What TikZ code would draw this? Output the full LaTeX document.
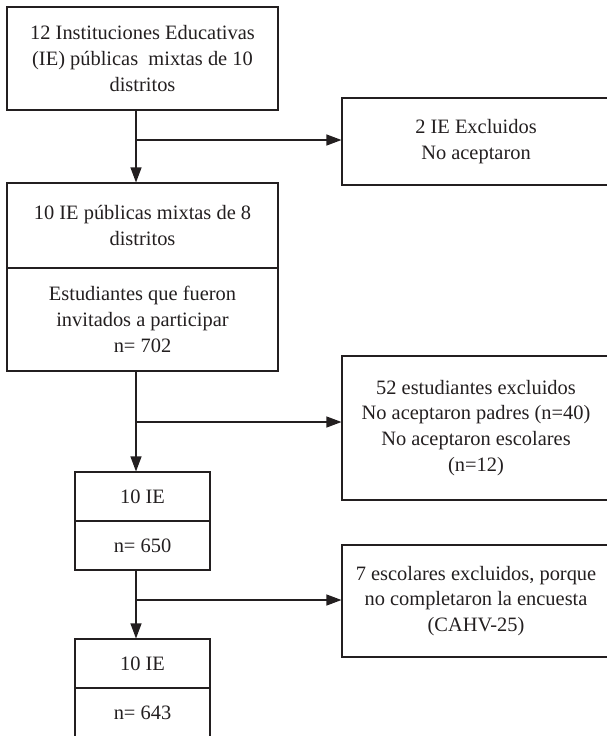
\documentclass[tikz,border=0pt]{standalone}
\usepackage{fontspec}
\setmainfont{Liberation Serif}
\usetikzlibrary{arrows.meta}
\definecolor{ink}{HTML}{231F20}
\tikzset{
  box/.style={draw=ink, line width=1.1bp, rectangle, inner sep=0pt, align=center,
    text=ink, font=\fontsize{20.5}{26}\selectfont},
  conn/.style={draw=ink, line width=1.1bp, -{Triangle[length=15bp,width=11bp]}},
  plain/.style={draw=ink, line width=1.1bp}
}
\begin{document}
\begin{tikzpicture}[x=1bp,y=-1bp]
\useasboundingbox (0,0) rectangle (607,736);
% left column
\node[box, minimum width=271bp, minimum height=103bp] (b1) at (142.5,58.5)
  {12 Instituciones Educativas\\(IE) públicas~ mixtas de 10\\distritos};
\node[box, minimum width=271bp, minimum height=85bp] (b2a) at (142.5,225.5)
  {10 IE públicas mixtas de 8\\distritos};
\node[box, minimum width=271bp, minimum height=103bp] (b2b) at (142.5,319.5)
  {Estudiantes que fueron\\invitados a participar\\n= 702};
\node[box, minimum width=135bp, minimum height=49bp] (b3a) at (142.5,496.5) {10 IE};
\node[box, minimum width=135bp, minimum height=49bp] (b3b) at (142.5,545.5) {n= 650};
\node[box, minimum width=135bp, minimum height=49bp] (b4a) at (142.5,663.5) {10 IE};
\node[box, minimum width=135bp, minimum height=49bp] (b4b) at (142.5,712.5) {n= 643};
% right column
\node[box, minimum width=268bp, minimum height=87bp] (r1) at (476,141.5)
  {2 IE Excluidos\\No aceptaron};
\node[box, minimum width=268bp, minimum height=144bp] (r2) at (476,428)
  {52 estudiantes excluidos\\No aceptaron padres (n=40)\\No aceptaron escolares\\(n=12)};
\node[box, minimum width=268bp, minimum height=112bp] (r3) at (476,601)
  {7 escolares excluidos, porque\\no completaron la encuesta\\(CAHV-25)};
% trunk points
\coordinate (s1) at ([xshift=-6.5bp]b1.south);
\coordinate (e1) at ([xshift=-6.5bp]b2a.north);
\coordinate (s2) at ([xshift=-6.5bp]b2b.south);
\coordinate (e2) at ([xshift=-6.5bp]b3a.north);
\coordinate (s3) at ([xshift=-6.5bp]b3b.south);
\coordinate (e3) at ([xshift=-6.5bp]b4a.north);
\coordinate (r2in) at ([yshift=6bp]r2.west);
\coordinate (r1in) at ([yshift=1.5bp]r1.west);
\coordinate (r3in) at ([yshift=1bp]r3.west);
% connectors
\draw[conn] (s1) -- (e1);
\draw[conn] (s1 |- r1in) -- (r1in);
\draw[conn] (s2) -- (e2);
\draw[conn] (s2 |- r2in) -- (r2in);
\draw[conn] (s3) -- (e3);
\draw[conn] (s3 |- r3in) -- (r3in);
\end{tikzpicture}
\end{document}
